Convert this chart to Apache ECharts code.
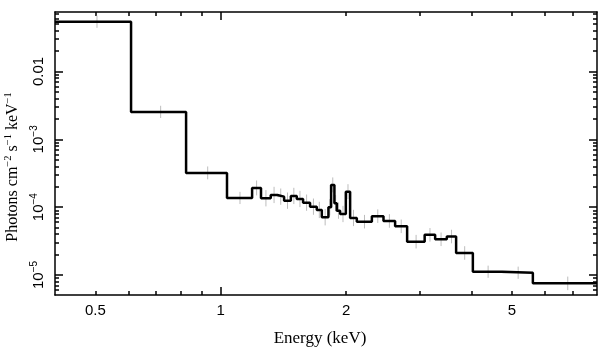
<!DOCTYPE html>
<html><head><meta charset="utf-8">
<script src="https://cdn.jsdelivr.net/npm/echarts@6/dist/echarts.min.js"></script>
<style>html,body{margin:0;padding:0;background:#fff}#c{width:609px;height:357px}</style>
</head><body><div id="c"></div>
<script>
// Bin edges (keV) of the folded spectrum
const binEdges = [0.4, 0.609, 0.8255, 1.035, 1.189, 1.249, 1.318, 1.367, 1.419, 1.473, 1.522, 1.576, 1.638, 1.700, 1.748, 1.813, 1.840, 1.874, 1.899, 1.934, 1.996, 2.044, 2.121, 2.305, 2.458, 2.621, 2.801, 3.086, 3.270, 3.488, 3.672, 4.028, 4.737, 5.612, 8.0];
// Model values per bin (photons cm^-2 s^-1 keV^-1)
const modelValues = [0.0542, 2.54e-3, 3.20e-4, 1.367e-4, 1.92e-4, 1.353e-4, 1.514e-4, 1.429e-4, 1.247e-4, 1.464e-4,
  1.321e-4, 1.165e-4, 1.017e-4, 9.1e-5, 7.1e-5, 9.97e-5, 2.13e-4, 1.142e-4, 8.88e-5, 7.93e-5,
  1.694e-4, 6.93e-5, 6.11e-5, 7.37e-5, 6.26e-5, 5.22e-5, 3.10e-5, 3.91e-5, 3.36e-5, 3.69e-5,
  2.11e-5, 1.117e-5, 1.080e-5, 7.53e-6];
// Data points (same bins) and their error half-sizes in dex
const dataValues = modelValues.slice();
const errDex = [0.09, 0.09, 0.095, 0.09, 0.11, 0.12, 0.12, 0.12, 0.12, 0.12,
  0.12, 0.12, 0.12, 0.12, 0.12, 0.12, 0.11, 0.12, 0.12, 0.12,
  0.11, 0.12, 0.1, 0.1, 0.1, 0.1, 0.1, 0.1, 0.1, 0.1,
  0.1, 0.09, 0.09, 0.1];
// Ticks and labels
const xMajorTicks = [1];
const xMinorTicks = [0.5, 0.6, 0.7, 0.8, 0.9, 2, 3, 4, 5, 6, 7];
const xLabelValues = [0.5, 1, 2, 5];
const yMajorTicks = [1e-5, 1e-4, 1e-3, 0.01];
const yMinorTicks = [6e-6, 7e-6, 8e-6, 9e-6, 2e-5, 3e-5, 4e-5, 5e-5, 6e-5, 7e-5, 8e-5, 9e-5,
  2e-4, 3e-4, 4e-4, 5e-4, 6e-4, 7e-4, 8e-4, 9e-4, 2e-3, 3e-3, 4e-3, 5e-3, 6e-3, 7e-3, 8e-3, 9e-3,
  0.02, 0.03, 0.04, 0.05, 0.06, 0.07];
const yLabelValues = [1e-5, 1e-4, 1e-3, 0.01];

const X_MIN = 0.4, X_MAX = 8.0, Y_MIN = 5.07e-6, Y_MAX = 0.0754;

const stepData = binEdges.slice(0, -1).map((e, i) => [e, modelValues[i]]);
stepData.push([binEdges[binEdges.length - 1], modelValues[modelValues.length - 1]]);

const errData = dataValues.map((v, i) => {
  const x0 = binEdges[i], x1 = binEdges[i + 1];
  const f = Math.pow(10, errDex[i]);
  return [(x0 + x1) / 2, v, v / f, v * f, x0, x1];
});

const sans = 'Liberation Sans, Arial, sans-serif';
const serif = 'Liberation Serif, Times New Roman, serif';

function xAxisDef(pos, ticks, len, isMain) {
  return {
    type: 'log', logBase: 10, min: X_MIN, max: X_MAX, position: pos, gridIndex: 0,
    axisLine: { show: isMain, lineStyle: { color: '#000', width: 1.5 } },
    axisTick: { show: true, inside: true, length: len, customValues: ticks, lineStyle: { color: '#000', width: 1.5 } },
    minorTick: { show: false },
    splitLine: { show: false },
    axisLabel: (isMain && pos === 'bottom') ? {
      show: true, customValues: xLabelValues, margin: 8, color: '#000', fontFamily: sans, fontSize: 15,
      formatter: v => String(+v.toPrecision(3))
    } : { show: false },
    name: (isMain && pos === 'bottom') ? 'Energy (keV)' : '',
    nameLocation: 'middle', nameGap: 35,
    nameTextStyle: { color: '#000', fontFamily: serif, fontSize: 17, padding: [0, 12, 0, 0] }
  };
}
function yAxisDef(pos, ticks, len, isMain) {
  return {
    type: 'log', logBase: 10, min: Y_MIN, max: Y_MAX, position: pos, gridIndex: 0,
    axisLine: { show: isMain, lineStyle: { color: '#000', width: 1.5 } },
    axisTick: { show: true, inside: true, length: len, customValues: ticks, lineStyle: { color: '#000', width: 1.5 } },
    minorTick: { show: false },
    splitLine: { show: false },
    axisLabel: (isMain && pos === 'left') ? {
      show: true, customValues: yLabelValues, rotate: 90, margin: 6, color: '#000', fontFamily: sans, fontSize: 15,
      formatter: v => {
        if (Math.abs(v - 0.01) < 1e-9) return '{b|0.01}';
        const n = Math.round(-Math.log10(v));
        return '{b|10}{s|\u2212' + n + '}';
      },
      rich: {
        b: { fontFamily: sans, fontSize: 15, color: '#000', lineHeight: 20 },
        s: { fontFamily: sans, fontSize: 10, color: '#000', verticalAlign: 'top', lineHeight: 20 }
      }
    } : { show: false },
    name: (isMain && pos === 'left') ? '{b|Photons cm}{s|\u22122}{b| s}{s|\u22121}{b| keV}{s|\u22121}' : '',
    nameLocation: 'middle', nameGap: 15,
    nameTextStyle: {
      color: '#000', fontFamily: serif, fontSize: 16, padding: [0, 27, 0, 0],
      rich: {
        b: { fontFamily: serif, fontSize: 16, color: '#000', lineHeight: 21 },
        s: { fontFamily: serif, fontSize: 10.5, color: '#000', verticalAlign: 'top', lineHeight: 21 }
      }
    }
  };
}

const chart = echarts.init(document.getElementById('c'), null, { renderer: 'canvas' });
chart.setOption({
  animation: false,
  backgroundColor: '#fff',
  grid: { left: 55, right: 12, top: 12, bottom: 62, containLabel: false, outerBoundsMode: 'none' },
  xAxis: [
    xAxisDef('bottom', xMajorTicks, 8, true),
    xAxisDef('bottom', xMinorTicks, 4, false),
    xAxisDef('top', xMajorTicks, 8, true),
    xAxisDef('top', xMinorTicks, 4, false)
  ],
  yAxis: [
    yAxisDef('left', yMajorTicks, 8, true),
    yAxisDef('left', yMinorTicks, 4, false),
    yAxisDef('right', yMajorTicks, 8, true),
    yAxisDef('right', yMinorTicks, 4, false)
  ],
  series: [
    {
      type: 'custom', xAxisIndex: 0, yAxisIndex: 0, clip: true, z: 1,
      data: errData, encode: { x: 0, y: 1 },
      renderItem: (params, api) => {
        const x = api.value(0), v = api.value(1), lo = api.value(2), hi = api.value(3), x0 = api.value(4), x1 = api.value(5);
        const a = api.coord([x, lo]), b = api.coord([x, hi]);
        const c = api.coord([x0, v]), d = api.coord([x1, v]);
        const st = { stroke: '#bdbdbd', lineWidth: 1 };
        return { type: 'group', children: [
          { type: 'line', shape: { x1: a[0], y1: a[1], x2: b[0], y2: b[1] }, style: st },
          { type: 'line', shape: { x1: c[0], y1: c[1], x2: d[0], y2: d[1] }, style: st }
        ] };
      }
    },
    {
      type: 'line', xAxisIndex: 0, yAxisIndex: 0, step: 'end', data: stepData,
      showSymbol: false, symbol: 'none', z: 3,
      lineStyle: { color: '#000', width: 2.5 }
    }
  ]
});
</script></body></html>
